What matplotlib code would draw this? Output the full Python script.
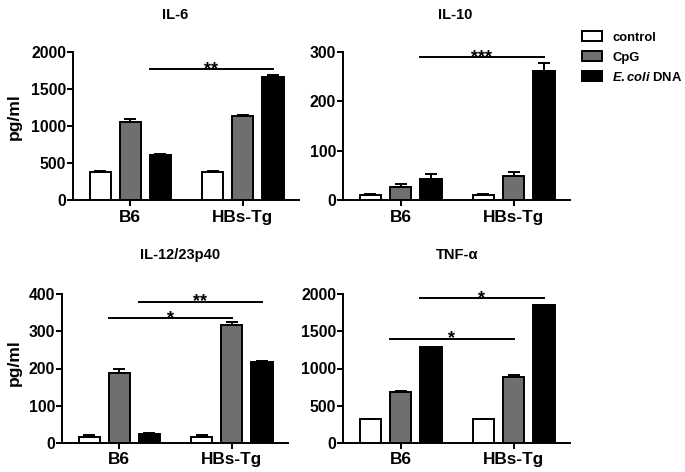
import matplotlib.pyplot as plt
import numpy as np
from matplotlib.patches import Patch

plt.rcParams['font.family'] = ['Liberation Sans', 'DejaVu Sans']
plt.rcParams['font.weight'] = 'bold'
plt.rcParams['mathtext.fontset'] = 'custom'
plt.rcParams['mathtext.it'] = 'Liberation Sans:italic:bold'
plt.rcParams['mathtext.rm'] = 'Liberation Sans:bold'

# data
groups = ['B6', 'HBs-Tg']
treatments = ['control', 'CpG', r'$\mathit{E.coli}$ DNA']
bar_colors = ['white', '#6f6f6f', 'black']

il6_mean = [[380, 380], [1050, 1130], [610, 1660]]
il6_err = [[15, 15], [40, 15], [10, 30]]

il10_mean = [[10, 10], [26, 49], [42, 261]]
il10_err = [[3, 3], [7, 7], [11, 17]]

il12_mean = [[16, 16], [189, 316], [24, 218]]
il12_err = [[4, 4], [11, 9], [2, 2]]

tnf_mean = [[320, 320], [680, 890], [1285, 1856]]
tnf_err = [[0, 0], [20, 25], [10, 5]]

# significance: (treatment idx, y level, label)
il6_sig = [(2, 1773, '**')]
il10_sig = [(2, 289, '***')]
il12_sig = [(2, 380, '**'), (1, 335, '*')]
tnf_sig = [(2, 1946, '*'), (1, 1402, '*')]

W, H = 685, 472
fig = plt.figure(figsize=(W / 100, H / 100), dpi=100)


def px_axes(x0, x1, ytop, ybot):
    return fig.add_axes([x0 / W, 1 - ybot / H, (x1 - x0) / W, (ybot - ytop) / H])


pitch = 0.268
width = 0.19


def draw_panel(ax, means, errs, sigs, ymax, yticks):
    x = np.arange(len(groups))
    for i, (m, e) in enumerate(zip(means, errs)):
        pos = x + (i - 1) * pitch
        ax.bar(pos, m, width, color=bar_colors[i], edgecolor='black', linewidth=1.4,
               yerr=[np.zeros(len(e)), e], capsize=4.5,
               error_kw=dict(elinewidth=1.4, capthick=1.4, ecolor='black'), zorder=2)
    for i, yv, lab in sigs:
        xs = (i - 1) * pitch - width / 2
        xe = 1 + (i - 1) * pitch
        ax.plot([xs, xe], [yv, yv], color='black', lw=1.4, clip_on=False)
        ax.annotate(lab, ((xs + xe) / 2, yv), xytext=(0, -3.5), textcoords='offset points',
                    ha='center', va='baseline', fontsize=13, fontweight='bold',
                    annotation_clip=False)
    ax.set_xlim(-0.51, 1.5)
    ax.set_ylim(0, ymax)
    ax.set_yticks(yticks)
    ax.set_xticks(x)
    ax.set_xticklabels(groups, fontsize=12.4, fontweight='bold')
    ax.tick_params(axis='y', labelsize=11.3, length=4, width=1.4, pad=1)
    ax.tick_params(axis='x', length=4, width=1.4, pad=3)
    for s in ['top', 'right']:
        ax.spines[s].set_visible(False)
    for s in ['left', 'bottom']:
        ax.spines[s].set_linewidth(1.4)


ax1 = px_axes(73, 299, 52, 200)
draw_panel(ax1, il6_mean, il6_err, il6_sig, 2000, [0, 500, 1000, 1500, 2000])
ax2 = px_axes(343, 570, 52, 200)
draw_panel(ax2, il10_mean, il10_err, il10_sig, 300, [0, 100, 200, 300])
ax3 = px_axes(62, 288, 294.3, 442.7)
draw_panel(ax3, il12_mean, il12_err, il12_sig, 400, [0, 100, 200, 300, 400])
ax4 = px_axes(343, 570, 294.3, 442.7)
draw_panel(ax4, tnf_mean, tnf_err, tnf_sig, 2000, [0, 500, 1000, 1500, 2000])

# titles and y labels
for txt, xp, yp in [('IL-6', 175, 15), ('IL-10', 455, 15),
                    ('IL-12/23p40', 180, 255), ('TNF-α', 457, 255)]:
    fig.text(xp / W, 1 - yp / H, txt, ha='center', va='center', fontsize=10.5, fontweight='bold')
for yp in [117, 363]:
    fig.text(14 / W, 1 - yp / H, 'pg/ml', ha='center', va='center', rotation=90,
             fontsize=12.6, fontweight='bold')

handles = [Patch(facecolor=c, edgecolor='black', linewidth=1.4) for c in bar_colors]
fig.legend(handles, treatments, loc='upper left', bbox_to_anchor=(582 / W, 1 - 31 / H),
           frameon=False, handlelength=1.5, handleheight=0.85,
           handletextpad=0.8, labelspacing=0.55, borderaxespad=0, borderpad=0,
           prop=dict(weight='bold', size=9.4))

fig.savefig('out.png', dpi=100)
